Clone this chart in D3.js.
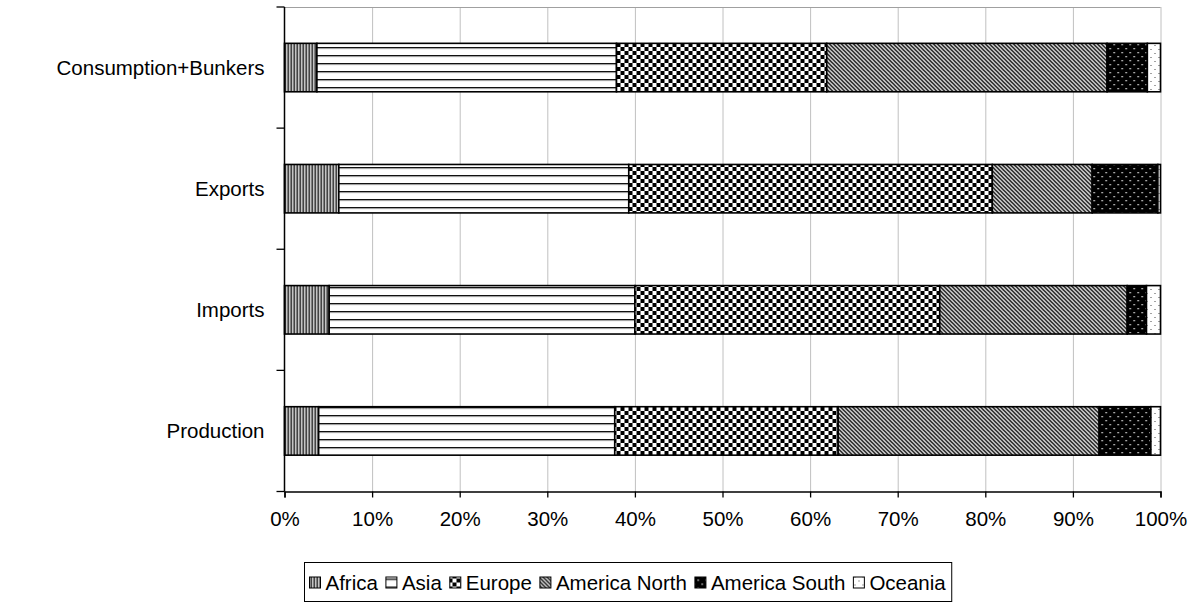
<!DOCTYPE html>
<html>
<head>
<meta charset="utf-8">
<script src="https://cdn.jsdelivr.net/npm/d3@7"></script>
<style>
  body { margin: 0; background: #fff; }
  text { font-family: "Liberation Sans", Arial, sans-serif; fill: #000; }
</style>
</head>
<body>
<div class="main_area"></div>
<script>
// data (percent shares)
const categories = ["Consumption+Bunkers", "Exports", "Imports", "Production"];
const regions = ["Africa", "Asia", "Europe", "America North", "America South", "Oceania"];
const africa = [3.7, 6.2, 5.1, 3.9];
const asia = [34.2, 33.1, 34.9, 33.8];
const europe = [24.0, 41.5, 34.8, 25.5];
const americaNorth = [32.0, 11.4, 21.4, 29.8];
const americaSouth = [4.6, 7.5, 2.2, 5.9];
const oceania = [1.5, 0.3, 1.6, 1.1];
const xTicks = [0, 0.1, 0.2, 0.3, 0.4, 0.5, 0.6, 0.7, 0.8, 0.9, 1];

const seriesValues = [africa, asia, europe, americaNorth, americaSouth, oceania];
const rows = categories.map(function(c, i) {
  const row = {category: c};
  regions.forEach(function(r, j) { row[r] = seriesValues[j][i]; });
  return row;
});

const margin = {top: 7, right: 37.5, bottom: 119.5, left: 284.5};
const W = 1198, H = 611;
const width = W - margin.left - margin.right,
  height = H - margin.top - margin.bottom;

const svg = d3.select(".main_area")
  .append("svg")
  .attr("width", W)
  .attr("height", H);

// fill patterns
const defs = svg.append("defs");

function pat(id, w, h) {
  return defs.append("pattern")
    .attr("id", id)
    .attr("patternUnits", "userSpaceOnUse")
    .attr("width", w)
    .attr("height", h);
}

// Africa: vertical lines
let p = pat("p0", 3, 4);
p.append("rect").attr("width", 3).attr("height", 4).attr("fill", "#fff");
p.append("rect").attr("x", 0).attr("width", 1).attr("height", 4).attr("fill", "#000");
p.append("rect").attr("x", 1).attr("width", 1).attr("height", 4).attr("fill", "#888");

// Asia: horizontal lines
p = pat("p1", 4, 8);
p.append("rect").attr("width", 4).attr("height", 8).attr("fill", "#fff");
p.append("rect").attr("y", 0).attr("width", 4).attr("height", 1.3).attr("fill", "#111");
p.append("rect").attr("y", 1.3).attr("width", 4).attr("height", 0.8).attr("fill", "#999");

// Europe: checkerboard
p = pat("p2", 8, 8);
p.append("rect").attr("width", 8).attr("height", 8).attr("fill", "#fff");
p.append("rect").attr("x", 0).attr("y", 0).attr("width", 4).attr("height", 4).attr("fill", "#000");
p.append("rect").attr("x", 4).attr("y", 4).attr("width", 4).attr("height", 4).attr("fill", "#000");

// America North: diagonal lines
p = pat("p3", 4, 4);
p.append("rect").attr("width", 4).attr("height", 4).attr("fill", "#fff");
p.append("path").attr("d", "M-1,-1 L5,5 M-1,3 L1,5 M3,-1 L5,1")
  .attr("stroke", "#000").attr("stroke-width", 1.5);

// America South: black with white dots
p = pat("p4", 8, 8);
p.append("rect").attr("width", 8).attr("height", 8).attr("fill", "#000");
p.append("rect").attr("x", 1).attr("y", 1).attr("width", 1.3).attr("height", 1.3).attr("fill", "#fff");
p.append("rect").attr("x", 5).attr("y", 5).attr("width", 1.3).attr("height", 1.3).attr("fill", "#fff");

// Oceania: white with sparse dots
p = pat("p5", 8, 8);
p.append("rect").attr("width", 8).attr("height", 8).attr("fill", "#fff");
p.append("rect").attr("x", 2).attr("y", 2).attr("width", 1).attr("height", 1).attr("fill", "#444");
p.append("rect").attr("x", 6).attr("y", 6).attr("width", 1).attr("height", 1).attr("fill", "#444");

const fills = d3.scaleOrdinal()
  .domain(regions)
  .range(regions.map((r, i) => "url(#p" + i + ")"));

const x = d3.scaleLinear()
  .domain([0, 1])
  .range([0, width]);

const y = d3.scaleBand()
  .domain(categories)
  .range([0, height])
  .paddingInner(0.6)
  .paddingOuter(0.3);

const plot = svg.append("g")
  .attr("transform", "translate(" + [margin.left, margin.top] + ")");

// vertical grid lines + gray frame on top
plot.append("g")
  .selectAll("line")
  .data(xTicks.slice(1))
  .enter().append("line")
    .attr("x1", d => x(d) + 0.5)
    .attr("x2", d => x(d) + 0.5)
    .attr("y1", 0)
    .attr("y2", height)
    .attr("stroke", "#c0c0c0")
    .attr("stroke-width", 1);

plot.append("line")
  .attr("x1", 0).attr("x2", width)
  .attr("y1", 0.5).attr("y2", 0.5)
  .attr("stroke", "#a0a0a0");

const stack = d3.stack()
  .keys(regions)
  .offset(d3.stackOffsetExpand);
const series = stack(rows);

plot.append("g")
  .selectAll("g")
  .data(series)
  .enter().append("g")
    .attr("fill", d => fills(d.key))
  .selectAll("rect")
  .data(d => d)
  .enter().append("rect")
    .attr("x", d => x(d[0]))
    .attr("y", d => y(d.data.category))
    .attr("width", d => x(d[1]) - x(d[0]))
    .attr("height", y.bandwidth())
    .attr("stroke", "#000")
    .attr("stroke-width", 1.6);

// y axis (ticks at category boundaries)
const yAxis = plot.append("g");
yAxis.append("line")
  .attr("x1", 0).attr("x2", 0)
  .attr("y1", 0).attr("y2", height)
  .attr("stroke", "#000").attr("stroke-width", 1.5);
yAxis.selectAll(".tk")
  .data(d3.range(categories.length + 1).map(i => i * height / categories.length))
  .enter().append("line")
    .attr("x1", -8).attr("x2", 0)
    .attr("y1", d => d).attr("y2", d => d)
    .attr("stroke", "#000").attr("stroke-width", 1.3);
yAxis.selectAll("text")
  .data(categories)
  .enter().append("text")
    .attr("x", -20)
    .attr("y", d => y(d) + y.bandwidth() / 2)
    .attr("dy", "0.35em")
    .attr("text-anchor", "end")
    .style("font-size", "20.5px")
    .text(d => d);

// x axis
const xAxis = d3.axisBottom(x)
  .tickValues(xTicks)
  .tickFormat(d3.format(".0%"))
  .tickSize(6)
  .tickPadding(14);

const xAxisGroup = plot.append("g")
  .attr("transform", "translate(0," + height + ")")
  .call(xAxis);
xAxisGroup.select(".domain").attr("stroke", "#000").attr("stroke-width", 1.5);
xAxisGroup.selectAll(".tick line").attr("stroke", "#000").attr("stroke-width", 1.3);
xAxisGroup.selectAll("text")
  .style("font-size", "20.5px")
  .style("font-family", "Liberation Sans, Arial, sans-serif")
  .attr("fill", "#000");

// legend
const legend = svg.append("g")
  .attr("transform", "translate(304.5,562.5)");
const legendBox = legend.append("rect")
  .attr("height", 39)
  .attr("fill", "#fff")
  .attr("stroke", "#000")
  .attr("stroke-width", 1);

let cx = 5;
regions.forEach(function(r) {
  legend.append("rect")
    .attr("x", cx)
    .attr("y", 14.5)
    .attr("width", 11)
    .attr("height", 11)
    .attr("fill", fills(r))
    .attr("stroke", "#000")
    .attr("stroke-width", 1);
  const t = legend.append("text")
    .attr("x", cx + 16)
    .attr("y", 20)
    .attr("dy", "0.35em")
    .style("font-size", "20.5px")
    .text(r);
  cx += 16 + t.node().getComputedTextLength() + 8;
});
legendBox.attr("width", cx - 2);
</script>
</body>
</html>
